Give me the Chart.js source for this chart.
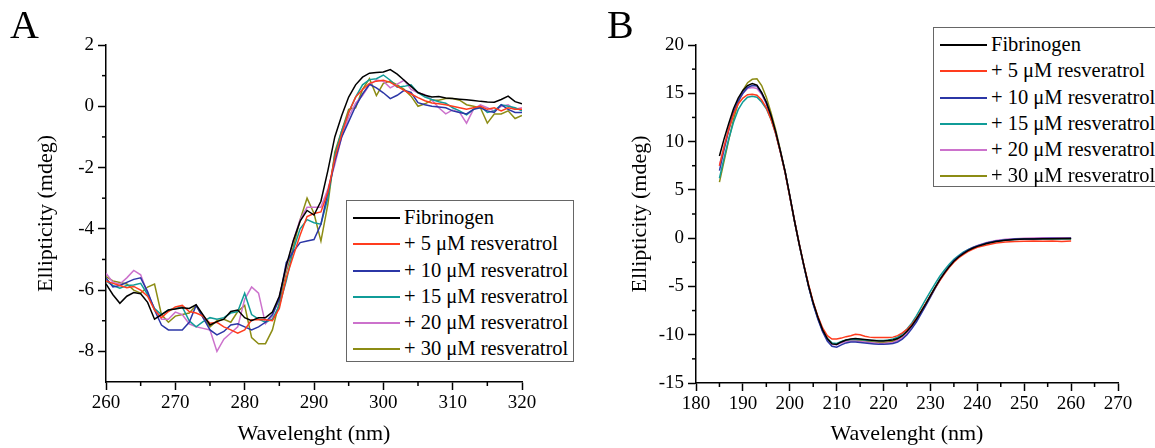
<!DOCTYPE html>
<html>
<head>
<meta charset="utf-8">
<script src="https://cdn.jsdelivr.net/npm/chart.js@4.4.0/dist/chart.umd.min.js"></script>
<style>
  html, body { margin:0; padding:0; background:#fff; }
  #wrap { position:relative; width:1155px; height:448px; overflow:hidden; background:#fff; font-family:"Liberation Serif","Times New Roman",serif; }
  #cA { position:absolute; left:0; top:0; }
  #cB { position:absolute; left:600px; top:0; }
  .panel { position:absolute; font-size:40px; line-height:40px; color:#000; }
  .legend { position:absolute; background:#fff; border:1px solid #666; box-sizing:border-box; padding-top:3px; }
  .row { height:26.3px; line-height:26px; white-space:nowrap; font-size:20.5px; color:#000; position:relative; }
  .row .sw { position:absolute; left:6px; top:13px; width:47px; height:2px; }
  .row .tx { position:absolute; left:57px; top:0; }
</style>
</head>
<body>
<div id="wrap">
  <canvas id="cA" width="600" height="448"></canvas>
  <canvas id="cB" width="555" height="448"></canvas>
  <div class="panel" style="left:10px;top:5px;">A</div>
  <div class="panel" style="left:607px;top:5px;">B</div>
  <div class="legend" id="legA" style="left:346px;top:200px;width:228px;height:162px;"></div>
  <div class="legend" id="legB" style="left:933px;top:27px;width:224px;height:160px;"></div>
</div>
<script>
// ---------- shared ----------
const seriesNames = ["Fibrinogen", "+ 5 \u03bcM resveratrol", "+ 10 \u03bcM resveratrol", "+ 15 \u03bcM resveratrol", "+ 20 \u03bcM resveratrol", "+ 30 \u03bcM resveratrol"];
const seriesColors = ["#000000", "#ff3c1e", "#2b36a6", "#109c98", "#cc72cc", "#8c8c14"];

// ---------- Panel A (near-UV CD) ----------
const wavelengthA = [260,261,262,263,264,265,266,267,268,269,270,271,272,273,274,275,276,277,278,279,280,281,282,283,284,285,286,287,288,289,290,291,292,293,294,295,296,297,298,299,300,301,302,303,304,305,306,307,308,309,310,311,312,313,314,315,316,317,318,319,320];
const fibrinogenA = [-5.8,-6.15,-6.43,-6.2,-6.08,-6.12,-6.4,-6.95,-6.8,-6.65,-6.62,-6.58,-6.6,-6.48,-6.81,-7.14,-7.03,-6.95,-6.7,-6.65,-6.9,-7.0,-6.9,-6.9,-6.72,-6.2,-5.2,-4.4,-3.75,-3.4,-3.55,-3.1,-2.1,-1.0,-0.3,0.3,0.7,0.95,1.08,1.1,1.12,1.2,1.05,0.85,0.65,0.45,0.36,0.3,0.32,0.27,0.25,0.23,0.21,0.19,0.16,0.14,0.13,0.22,0.33,0.15,0.08];
const res5A = [-5.7,-5.78,-5.85,-5.92,-5.88,-6.0,-6.2,-6.65,-6.9,-6.7,-6.55,-6.5,-6.7,-6.75,-6.85,-7.08,-7.05,-7.2,-7.3,-7.41,-7.3,-6.97,-6.97,-6.97,-7.0,-6.6,-5.6,-4.9,-4.2,-3.6,-3.5,-3.45,-2.8,-1.7,-0.9,-0.2,0.3,0.55,0.75,0.82,0.85,0.78,0.65,0.52,0.4,0.28,0.18,0.11,0.08,0.05,0.0,-0.05,-0.1,-0.05,0.0,-0.1,-0.05,-0.15,-0.05,-0.1,-0.1];
const res10A = [-5.6,-5.9,-5.85,-5.75,-5.65,-5.6,-6.05,-6.65,-7.14,-7.3,-7.3,-7.3,-7.05,-6.5,-6.9,-7.3,-7.46,-7.35,-7.14,-7.1,-7.2,-7.3,-7.2,-7.05,-6.8,-6.3,-5.1,-4.75,-4.45,-4.4,-4.35,-3.85,-2.8,-1.8,-1.0,-0.5,0.0,0.4,0.72,0.6,0.44,0.25,0.36,0.52,0.45,0.12,0.05,0.0,-0.02,-0.05,-0.15,-0.2,-0.25,-0.1,-0.05,-0.15,-0.2,0.05,-0.1,-0.2,-0.2];
const res15A = [-5.7,-5.85,-5.94,-5.85,-5.83,-5.78,-6.15,-6.6,-6.8,-6.65,-6.6,-6.55,-7.0,-7.2,-7.03,-6.9,-6.95,-6.9,-6.75,-6.7,-6.1,-6.8,-6.95,-7.05,-6.95,-6.5,-5.7,-4.7,-4.0,-3.7,-3.8,-3.85,-3.0,-1.6,-0.8,-0.2,0.3,0.7,0.87,0.9,1.02,0.85,0.62,0.65,0.7,0.44,0.3,0.22,0.15,0.1,-0.05,-0.15,-0.28,-0.1,0.0,-0.2,-0.15,0.05,0.0,-0.05,-0.15];
const res20A = [-5.45,-5.75,-5.8,-5.6,-5.36,-5.5,-6.1,-6.6,-6.95,-6.95,-6.72,-6.8,-7.1,-7.2,-7.25,-7.3,-8.0,-7.6,-7.4,-7.2,-6.3,-5.9,-6.1,-7.1,-6.85,-6.2,-5.3,-4.4,-3.7,-3.3,-3.3,-3.3,-2.7,-1.9,-1.0,-0.35,0.1,0.35,0.7,0.86,0.82,0.6,0.72,0.85,0.55,0.44,0.38,0.2,-0.05,-0.25,-0.12,-0.2,-0.55,-0.1,0.05,-0.05,-0.15,0.0,0.05,-0.1,-0.05];
const res30A = [-5.56,-5.7,-5.75,-5.8,-6.0,-6.1,-5.9,-5.8,-6.8,-7.05,-6.85,-6.8,-6.75,-6.5,-6.9,-7.2,-7.0,-6.95,-7.05,-6.7,-6.5,-7.55,-7.75,-7.75,-7.3,-6.4,-5.4,-4.6,-3.7,-3.0,-3.5,-4.4,-3.2,-1.5,-0.8,-0.1,-0.05,0.55,0.9,0.35,0.75,0.82,0.7,0.55,0.33,0.0,0.08,0.2,0.2,0.25,0.25,0.2,0.05,0.0,-0.05,-0.55,-0.25,-0.25,-0.15,-0.4,-0.3];
const xTicksA = { min:260, max:320, step:10 };
const yTicksA = { min:-9, max:2, step:2 };

// ---------- Panel B (far-UV CD) ----------
const wavelengthB = [185,186,187,188,189,190,191,192,193,194,195,196,197,198,199,200,201,202,203,204,205,206,207,208,209,210,211,212,213,214,215,216,217,218,219,220,221,222,223,224,225,226,227,228,229,230,231,232,233,234,235,236,237,238,239,240,242,244,246,248,250,252,254,256,258,260];
const fibrinogenB = [8.5,10.3,11.9,13.4,14.5,15.3,15.8,16.0,15.85,15.1,14.1,12.7,11.0,9.0,6.9,4.4,1.8,-0.6,-2.8,-4.9,-6.7,-8.2,-9.5,-10.4,-10.95,-11.0,-10.75,-10.55,-10.45,-10.4,-10.45,-10.5,-10.55,-10.6,-10.65,-10.65,-10.6,-10.55,-10.4,-10.1,-9.65,-9.1,-8.4,-7.6,-6.8,-5.95,-5.1,-4.3,-3.6,-2.95,-2.4,-1.95,-1.6,-1.3,-1.05,-0.85,-0.55,-0.35,-0.22,-0.15,-0.1,-0.08,-0.05,-0.05,-0.04,-0.03];
const res5B = [7.5,9.5,11.3,12.8,13.9,14.5,14.85,14.9,14.8,14.3,13.5,12.3,10.8,8.9,6.8,4.3,1.8,-0.6,-2.8,-4.8,-6.6,-8.1,-9.3,-10.1,-10.45,-10.45,-10.35,-10.2,-10.1,-9.95,-10.0,-10.15,-10.25,-10.3,-10.3,-10.3,-10.3,-10.25,-10.1,-9.8,-9.45,-8.95,-8.3,-7.55,-6.75,-5.95,-5.15,-4.4,-3.7,-3.05,-2.5,-2.05,-1.7,-1.4,-1.15,-0.95,-0.7,-0.5,-0.4,-0.35,-0.32,-0.3,-0.32,-0.3,-0.35,-0.3];
const res10B = [7.0,9.2,11.2,13.0,14.2,15.0,15.6,15.8,15.75,15.0,14.0,12.6,10.9,8.95,6.85,4.35,1.8,-0.6,-2.85,-5.0,-6.85,-8.4,-9.7,-10.65,-11.2,-11.3,-11.05,-10.85,-10.75,-10.75,-10.8,-10.85,-10.9,-10.95,-11.0,-11.0,-10.95,-10.9,-10.75,-10.45,-10.0,-9.4,-8.7,-7.85,-7.0,-6.1,-5.2,-4.35,-3.6,-2.95,-2.35,-1.9,-1.55,-1.25,-1.0,-0.8,-0.5,-0.3,-0.18,-0.1,-0.08,-0.05,-0.03,-0.02,-0.03,-0.02];
const res15B = [6.2,8.3,10.3,12.0,13.3,14.1,14.6,14.7,14.6,14.1,13.4,12.3,10.8,8.95,6.85,4.3,1.75,-0.65,-2.9,-4.95,-6.8,-8.3,-9.55,-10.4,-10.85,-10.9,-10.7,-10.55,-10.5,-10.5,-10.5,-10.55,-10.6,-10.6,-10.6,-10.6,-10.55,-10.45,-10.25,-9.9,-9.4,-8.8,-8.05,-7.2,-6.35,-5.5,-4.7,-3.95,-3.3,-2.7,-2.2,-1.8,-1.45,-1.2,-0.98,-0.8,-0.5,-0.32,-0.2,-0.15,-0.1,-0.08,-0.06,-0.05,-0.06,-0.05];
const res20B = [7.5,9.5,11.4,13.0,14.2,15.0,15.5,15.6,15.5,14.9,13.9,12.5,10.9,8.95,6.85,4.35,1.8,-0.6,-2.85,-4.95,-6.8,-8.3,-9.6,-10.5,-11.0,-11.05,-10.85,-10.7,-10.65,-10.65,-10.7,-10.75,-10.8,-10.85,-10.9,-10.9,-10.85,-10.8,-10.6,-10.3,-9.85,-9.25,-8.55,-7.75,-6.9,-6.0,-5.15,-4.3,-3.55,-2.9,-2.3,-1.85,-1.5,-1.2,-0.95,-0.75,-0.45,-0.25,-0.12,-0.05,0.0,0.02,0.05,0.03,0.05,0.03];
const res30B = [5.8,8.0,10.2,12.3,14.0,15.3,16.1,16.45,16.5,15.8,14.6,13.0,11.2,9.1,6.9,4.4,1.85,-0.55,-2.8,-4.9,-6.75,-8.25,-9.55,-10.45,-10.9,-10.95,-10.75,-10.6,-10.55,-10.55,-10.6,-10.65,-10.7,-10.75,-10.8,-10.8,-10.75,-10.7,-10.5,-10.2,-9.75,-9.15,-8.45,-7.65,-6.8,-5.95,-5.1,-4.3,-3.55,-2.9,-2.35,-1.9,-1.55,-1.25,-1.0,-0.8,-0.5,-0.3,-0.2,-0.12,-0.1,-0.1,-0.08,-0.1,-0.08,-0.1];
const xTicksB = { min:180, max:270, step:10 };
const yTicksB = { min:-15, max:20, step:5 };

const xTitle = "Wavelenght (nm)";
const yTitle = "Ellipticity (mdeg)";

// ---------- helpers ----------
const FONT = "'Liberation Serif','Times New Roman',serif";

const minorTicks = {
  id: 'minorTicks',
  afterDraw(chart) {
    const ctx = chart.ctx, xs = chart.scales.x, ys = chart.scales.y;
    ctx.save();
    ctx.strokeStyle = '#000';
    ctx.lineWidth = 1.5;
    const len = 4;
    const xv = xs.ticks.map(t => t.value);
    for (let i = 0; i < xv.length - 1; i++) {
      const p = xs.getPixelForValue((xv[i] + xv[i + 1]) / 2);
      ctx.beginPath(); ctx.moveTo(p, xs.top); ctx.lineTo(p, xs.top + len); ctx.stroke();
    }
    const yv = ys.ticks.map(t => t.value);
    for (let i = 0; i < yv.length - 1; i++) {
      const p = ys.getPixelForValue((yv[i] + yv[i + 1]) / 2);
      ctx.beginPath(); ctx.moveTo(ys.right, p); ctx.lineTo(ys.right - len, p); ctx.stroke();
    }
    ctx.restore();
  }
};

function makeDatasets(wl, arrays) {
  return arrays.map((vals, i) => ({
    label: seriesNames[i],
    data: wl.map((w, j) => ({ x: w, y: vals[j] })),
    borderColor: seriesColors[i],
    backgroundColor: seriesColors[i],
    borderWidth: 1.5,
    pointRadius: 0,
    tension: 0,
    fill: false
  }));
}

function makeChart(canvasId, wl, arrays, xt, yt, geom) {
  const axisCommon = {
    type: 'linear',
    border: { display: true, color: '#000', width: 1.5 },
    grid: { drawOnChartArea: false, drawTicks: true, tickLength: 8, tickColor: '#000', tickWidth: 1.5 },
  };
  return new Chart(document.getElementById(canvasId), {
    type: 'line',
    data: { datasets: makeDatasets(wl, arrays) },
    options: {
      responsive: false,
      animation: false,
      layout: { padding: { left: 0, top: geom.top, right: geom.right, bottom: 0 } },
      plugins: { legend: { display: false }, tooltip: { enabled: false } },
      scales: {
        x: Object.assign({}, axisCommon, {
          min: xt.min, max: xt.max,
          ticks: { stepSize: xt.step, color: '#000', font: { family: FONT, size: 19 }, padding: 2, maxRotation: 0 },
          title: { display: true, text: xTitle, color: '#000', font: { family: FONT, size: 22 }, padding: { top: 0, bottom: 1 } },
          afterFit(s) { s.height = geom.xh; }
        }),
        y: Object.assign({}, axisCommon, {
          min: yt.min, max: yt.max,
          ticks: { stepSize: yt.step, color: '#000', font: { family: FONT, size: 19 }, padding: 4 },
          afterBuildTicks(s) { s.ticks = s.ticks.filter(t => (t.value % yt.step) === 0); },
          title: { display: true, text: yTitle, color: '#000', font: { family: FONT, size: 22 }, padding: { top: geom.ytitle, bottom: 0 } },
          afterFit(s) { s.width = geom.yw; }
        })
      }
    },
    plugins: [minorTicks]
  });
}

makeChart('cA', wavelengthA, [fibrinogenA, res5A, res10A, res15A, res20A, res30A], xTicksA, yTicksA,
  { top: 45, right: 600 - 522, xh: 448 - 382, yw: 106, ytitle: 33 });
makeChart('cB', wavelengthB, [fibrinogenB, res5B, res10B, res15B, res20B, res30B], xTicksB, yTicksB,
  { top: 45, right: 555 - 518, xh: 448 - 383, yw: 96, ytitle: 27 });

// ---------- legends (real text) ----------
function buildLegend(id) {
  const el = document.getElementById(id);
  seriesNames.forEach((name, i) => {
    const row = document.createElement('div');
    row.className = 'row';
    const sw = document.createElement('span');
    sw.className = 'sw';
    sw.style.background = seriesColors[i];
    const tx = document.createElement('span');
    tx.className = 'tx';
    tx.textContent = name;
    row.appendChild(sw); row.appendChild(tx);
    el.appendChild(row);
  });
}
buildLegend('legA');
buildLegend('legB');
</script>
</body>
</html>
